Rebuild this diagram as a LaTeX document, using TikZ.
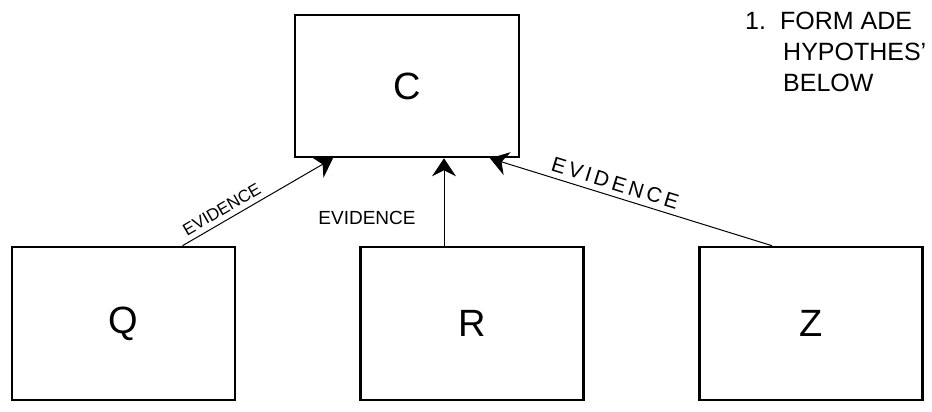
\documentclass[tikz,border=0pt]{standalone}
\usepackage{fontspec}
\setmainfont{Liberation Sans}
\usetikzlibrary{positioning,arrows.meta}

\begin{document}
\begin{tikzpicture}[x=1pt,y=1pt,>={Stealth[length=18pt,width=24pt,inset=6pt]},
    box/.style={draw,line width=2.6pt,inner sep=0pt,minimum width=223pt,minimum height=153pt,font=\fontsize{38}{40}\selectfont},
    evid/.style={font=\fontsize{17}{19}\selectfont}]
        \useasboundingbox (0,0) rectangle (932,412);
        \node[box,minimum width=224pt,minimum height=142pt] (c) at (407,326) {C};
        \node[box] (q) at (123.5,88.5) {Q};
        \node[box] (r) at (472,88.5) {R};
        \node[box] (z) at (811,88.5) {Z};
        \draw[->,line width=1pt] ([xshift=59pt]q.north) -- ([xshift=-74pt]c.south) node[evid,pos=0.3,sloped,above=2pt] (e1) {EVIDENCE};
        \draw[->,line width=1pt] ([xshift=-28pt]r.north) -- ([xshift=37pt]c.south);
        \draw[->,line width=1pt] ([xshift=-39pt]z.north) -- ([xshift=83pt]c.south) node[evid,pos=0.57,sloped,above=2pt,font=\fontsize{21}{23}\selectfont] (e3) {E\,V\,I\,D\,E\,N\,C\,E};
        \node[evid,font=\fontsize{19}{21}\selectfont] (e2) at (367,194) {EVIDENCE};
        \node[anchor=north west,align=left,inner sep=0pt,font=\fontsize{25}{31}\selectfont] (note) at (745,400) {1.\hspace{14pt}FORM ADE\\\hspace{38pt}HYPOTHES'\\\hspace{38pt}BELOW};
    \end{tikzpicture}
\end{document}
